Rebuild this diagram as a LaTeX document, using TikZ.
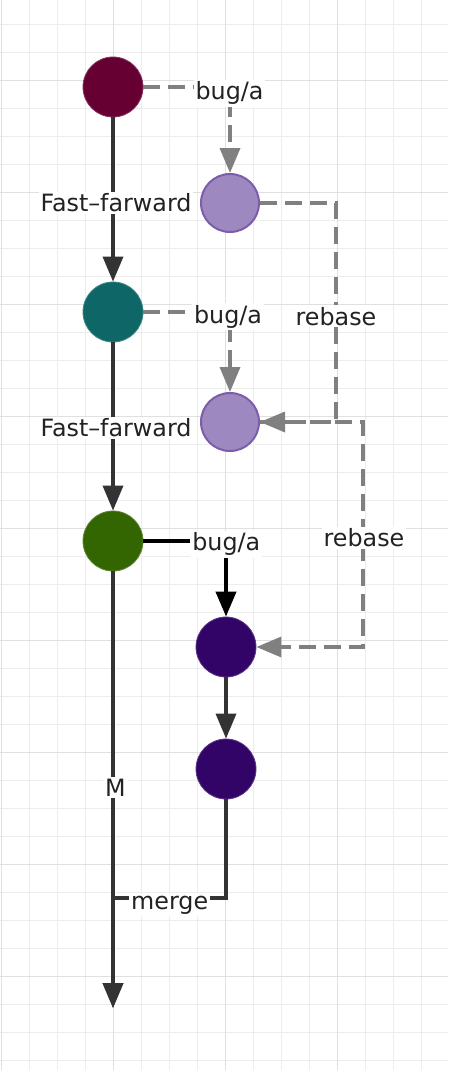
\documentclass[tikz,border=0pt]{standalone}
\usepackage{fontspec}
\setmainfont{DejaVu Sans}
\usetikzlibrary{arrows.meta}
\definecolor{gridminor}{RGB}{237,237,237}
\definecolor{gridmajor}{RGB}{224,224,224}
\definecolor{maroon}{RGB}{102,0,51}
\definecolor{teal}{RGB}{14,102,102}
\definecolor{leaf}{RGB}{51,102,0}
\definecolor{indigo}{RGB}{51,4,104}
\definecolor{lilac}{RGB}{158,136,192}
\definecolor{lilacborder}{RGB}{122,94,172}
\definecolor{linedark}{RGB}{51,51,51}
\definecolor{linegray}{RGB}{128,128,128}
\definecolor{textcol}{RGB}{34,34,34}
\begin{document}
\begin{tikzpicture}[x=1pt,y=-1pt,
  commit/.style={circle, minimum size=60pt, inner sep=0pt, line width=0.8pt},
  lightcommit/.style={circle, minimum size=58pt, inner sep=0pt, fill=lilac, draw=lilacborder, line width=2pt},
  lbl/.style={fill=white, inner sep=2pt, anchor=base, text=textcol, font=\fontsize{23.8}{28}\selectfont},
  tip/.style={-{Triangle[length=25pt,width=20pt]}},
  solidedge/.style={draw=linedark, line width=3.5pt, tip},
  blackedge/.style={draw=black, line width=4pt, tip},
  dashedge/.style={draw=linegray, line width=3.5pt, dash pattern=on 17pt off 8pt, tip},
]
\useasboundingbox (0,0) rectangle (448,1070);
\fill[white] (0,0) rectangle (448,1070);
% grid
\foreach \x in {1.5,29.5,...,421.5} \draw[gridminor, line width=1.5pt] (\x,0) -- (\x,1070);
\foreach \y in {24.5,52.5,...,1060.5} \draw[gridminor, line width=1.5pt] (0,\y) -- (448,\y);
\foreach \x in {1.5,113.5,...,337.5} \draw[gridmajor, line width=1.8pt] (\x,0) -- (\x,1070);
\foreach \y in {80.5,192.5,...,976.5} \draw[gridmajor, line width=1.8pt] (0,\y) -- (448,\y);

% commits
\node[commit, fill=maroon, draw=maroon!80!white] (n1) at (113,87) {};
\node[lightcommit] (n2) at (230,203) {};
\node[commit, fill=teal, draw=teal!80!white] (n3) at (113,312) {};
\node[lightcommit] (n4) at (230,422) {};
\node[commit, fill=leaf, draw=leaf!80!white] (n5) at (113,541) {};
\node[commit, fill=indigo, draw=indigo!80!white] (n6) at (226,647) {};
\node[commit, fill=indigo, draw=indigo!80!white] (n7) at (226,769) {};

% helper coordinates
\coordinate (rb1) at (336,318);
\coordinate (rb2) at (363,540);
\coordinate (mg) at (113,898);
\coordinate (end) at (113,1008);

% connectors
\draw[dashedge] (n1.east) -| (n2.north);
\draw[solidedge] (n1.south) -- (n3.north);
\draw[dashedge] (n2.east) -| (rb1) |- (n4.east);
\draw[dashedge] (n3.east) -| (n4.north);
\draw[solidedge] (n3.south) -- (n5.north);
\draw[dashedge] (n4.east) -| (rb2) |- (n6.east);
\draw[blackedge] (n5.east) -| (n6.north);
\draw[solidedge] (n6.south) -- (n7.north);
\draw[solidedge] (n5.south) -- (end);
\draw[solidedge] (n7.south) |- (mg) -- (end);

% labels
\node[lbl] (l1) at (229.5,100) {bug/a};
\node[lbl] (l2) at (116,211.7) {Fast–farward};
\node[lbl] (l3) at (228,323.3) {bug/a};
\node[lbl] (l4) at (336,325) {rebase};
\node[lbl] (l5) at (116,436.7) {Fast–farward};
\node[lbl] (l6) at (226.3,550.7) {bug/a};
\node[lbl] (l7) at (364,546.7) {rebase};
\node[lbl] (l8) at (115.5,796) {M};
\node[lbl] (l9) at (169.7,909.3) {merge};
\end{tikzpicture}
\end{document}
